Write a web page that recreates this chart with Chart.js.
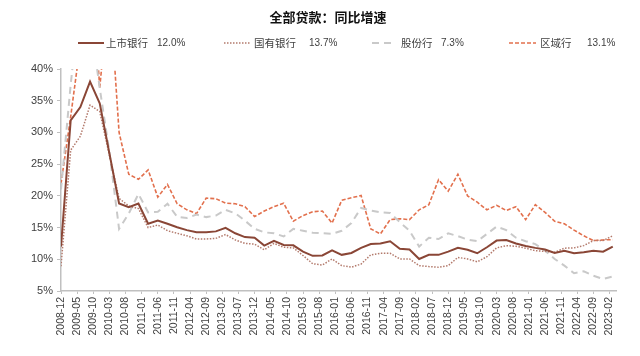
<!DOCTYPE html>
<html>
<head>
<meta charset="utf-8">
<script src="https://cdn.jsdelivr.net/npm/chart.js@4"></script>
<style>
html,body{margin:0;padding:0;background:#fff;}
#c{display:block;}
</style>
</head>
<body>
<canvas id="c" width="640" height="356"></canvas>
<script>
const quarters = ["2008-12","2009-03","2009-06","2009-09","2009-12","2010-03","2010-06","2010-09","2010-12","2011-03",
"2011-06","2011-09","2011-12","2012-03","2012-06","2012-09","2012-12","2013-03","2013-06","2013-09",
"2013-12","2014-03","2014-06","2014-09","2014-12","2015-03","2015-06","2015-09","2015-12","2016-03",
"2016-06","2016-09","2016-12","2017-03","2017-06","2017-09","2017-12","2018-03","2018-06","2018-09",
"2018-12","2019-03","2019-06","2019-09","2019-12","2020-03","2020-06","2020-09","2020-12","2021-03",
"2021-06","2021-09","2021-12","2022-03","2022-06","2022-09","2022-12","2023-03"];

const tickLabels = ["2008-12","2009-05","2009-10","2010-03","2010-08","2011-01","2011-06","2011-11","2012-04","2012-09",
"2013-02","2013-07","2013-12","2014-05","2014-10","2015-03","2015-08","2016-01","2016-06","2016-11",
"2017-04","2017-09","2018-02","2018-07","2018-12","2019-05","2019-10","2020-03","2020-08","2021-01",
"2021-06","2021-11","2022-04","2022-09","2023-02"];

const listedBanks = [12.0,31.9,34.0,38.0,34.6,26.7,18.8,18.2,18.8,15.6,
16.1,15.6,15.05,14.6,14.25,14.25,14.4,14.95,14.1,13.5,
13.4,12.15,12.9,12.25,12.2,11.2,10.55,10.6,11.4,10.7,
11.0,11.8,12.4,12.5,12.85,11.65,11.55,10.05,10.7,10.7,
11.2,11.8,11.5,10.95,11.9,12.95,13.05,12.5,12.1,11.8,
11.55,11.0,11.35,10.95,11.1,11.35,11.2,12.0];

const stateBanks = [8.9,27.2,29.4,34.3,33.3,26.4,19.6,18.4,18.0,15.0,
15.4,14.5,14.1,13.7,13.2,13.2,13.3,13.9,13.05,12.5,
12.4,11.5,12.5,11.9,11.8,10.6,9.3,9.1,10.05,9.0,
8.75,9.25,10.7,10.95,10.95,10.05,10.05,9.0,8.85,8.75,
9.0,10.3,10.05,9.6,10.4,11.8,12.15,12.05,11.75,11.35,
11.25,11.1,11.75,11.8,12.15,12.95,12.95,13.7];

const jointStockBanks = [21.0,37.5,52.0,48.0,37.0,26.9,14.8,17.2,20.3,17.4,
17.5,18.75,16.7,16.5,17.05,16.65,16.9,17.8,17.25,16.1,
14.8,14.25,14.1,13.6,14.8,14.5,14.2,14.1,14.0,14.5,
15.7,18.1,17.7,17.4,17.3,15.85,14.5,12.0,13.4,13.2,
14.1,13.65,13.1,12.85,14.0,15.15,14.6,13.4,12.85,12.4,
11.35,10.05,9.0,7.8,8.1,7.4,6.9,7.3];

const regionalBanks = [21.9,32.5,44.0,60.0,37.0,53.0,30.0,23.4,22.6,24.1,
19.8,21.8,18.75,17.8,17.2,19.65,19.55,18.85,18.75,18.3,
16.75,17.6,18.3,18.85,16.0,16.9,17.5,17.6,15.7,19.3,
19.7,20.05,14.8,14.0,16.25,16.4,16.25,17.8,18.6,22.55,
20.75,23.4,20.0,19.0,17.8,18.5,17.7,18.3,16.25,18.6,
17.4,16.0,15.6,14.6,13.7,12.95,13.05,13.1];

const seriesNames = ["上市银行","国有银行","股份行","区域行"];
const latestValues = ["12.0%","13.7%","7.3%","13.1%"];
const yTicks = [5,10,15,20,25,30,35,40];
const titleText = "全部贷款：同比增速";

function monthIndex(s){
  const p = s.split("-");
  return (parseInt(p[0],10)-2008)*12 + (parseInt(p[1],10)-12);
}
function toPoints(arr){ return arr.map((v,i)=>({x:monthIndex(quarters[i]), y:v})); }

const FONT = "'Liberation Sans', Arial, 'Noto Sans CJK SC', sans-serif";
const CJK = "'Noto Sans CJK SC', 'Liberation Sans', sans-serif";

const styles = [
  {color:'#8a4636', width:2, dash:[]},
  {color:'#b37a6c', width:1.5, dash:[1.5,1.5]},
  {color:'#c9c9c9', width:2, dash:[7,5]},
  {color:'#e2704d', width:1.6, dash:[4,2]}
];
const seriesData = [listedBanks, stateBanks, jointStockBanks, regionalBanks];

const legendPos = [
  {x0:78, x1:104, tx:106, vx:157},
  {x0:224, x1:250, tx:254, vx:309},
  {x0:372, x1:395, tx:401, vx:441},
  {x0:509, x1:536, tx:540, vx:587}
];

const headerPlugin = {
  id:'header',
  afterDraw(chart){
    const ctx = chart.ctx;
    ctx.save();
    ctx.fillStyle = '#111';
    ctx.textAlign = 'center';
    ctx.textBaseline = 'middle';
    ctx.font = "bold 13px " + CJK;
    ctx.fillText(titleText, 328, 17);
    const y = 43;
    seriesNames.forEach((name,i)=>{
      const s = styles[i], p = legendPos[i];
      ctx.beginPath();
      ctx.strokeStyle = s.color;
      ctx.lineWidth = s.width;
      ctx.setLineDash(s.dash);
      ctx.moveTo(p.x0,y); ctx.lineTo(p.x1,y);
      ctx.stroke();
      ctx.setLineDash([]);
      ctx.fillStyle = '#404040';
      ctx.textBaseline = 'middle';
      ctx.textAlign = 'left';
      ctx.font = "10.5px " + CJK;
      ctx.fillText(name, p.tx, y);
      ctx.font = "10px " + FONT;
      ctx.fillText(latestValues[i], p.vx, y);
    });
    ctx.restore();
  }
};

new Chart(document.getElementById('c'), {
  type:'line',
  data:{
    datasets: seriesNames.map((n,i)=>({
      label:n,
      data:toPoints(seriesData[i]),
      borderColor:styles[i].color,
      borderWidth:styles[i].width,
      borderDash:styles[i].dash,
      pointRadius:0,
      tension:0,
      fill:false
    }))
  },
  options:{
    responsive:false,
    devicePixelRatio:1,
    animation:false,
    layout:{padding:{left:0,right:24,top:69,bottom:0}},
    plugins:{
      legend:{display:false},
      tooltip:{enabled:false},
      title:{display:false}
    },
    scales:{
      x:{
        type:'linear',
        min:0,
        max:172,
        afterBuildTicks(axis){ axis.ticks = tickLabels.map(l=>({value:monthIndex(l)})); },
        afterFit(scale){ scale.height = 65; },
        ticks:{
          autoSkip:false,
          minRotation:90,
          maxRotation:90,
          padding:3,
          color:'#404040',
          font:{family:FONT,size:10.5},
          callback:(v,i)=>tickLabels[i]
        },
        grid:{drawOnChartArea:false, drawTicks:true, tickLength:3, color:'#c0c0c0'},
        border:{color:'#c0c0c0', width:1.5}
      },
      y:{
        min:5,
        max:40,
        afterBuildTicks(axis){ axis.ticks = yTicks.map(v=>({value:v})); },
        afterFit(scale){ scale.width = 61; },
        ticks:{
          padding:4,
          color:'#404040',
          font:{family:FONT,size:11},
          callback:(v)=>v+'%'
        },
        grid:{drawOnChartArea:false, drawTicks:true, tickLength:4, color:'#c0c0c0'},
        border:{color:'#c0c0c0', width:1.5}
      }
    }
  },
  plugins:[headerPlugin]
});
</script>
</body>
</html>
